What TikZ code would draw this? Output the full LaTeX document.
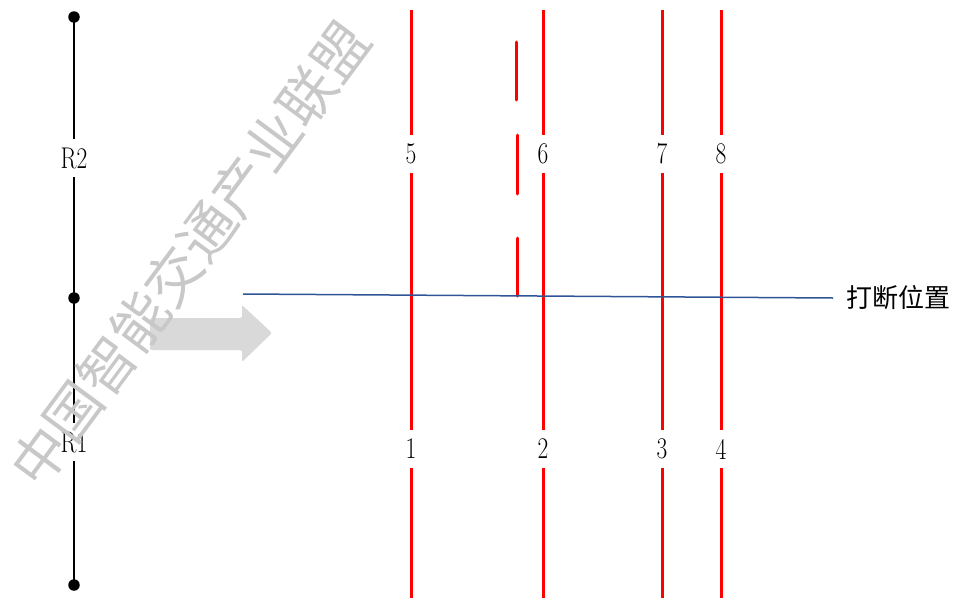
\documentclass[tikz,border=0pt]{standalone}
\usepackage{fontspec}
\newfontfamily\cjk{Noto Sans CJK SC}
\definecolor{rline}{RGB}{255,0,0}
\definecolor{bline}{RGB}{47,85,151}
\definecolor{arrowgray}{RGB}{217,217,217}
\definecolor{wmgray}{RGB}{200,200,200}
\tikzset{
  lbl/.style={inner sep=0pt, minimum height=38pt, minimum width=20pt, font=\fontsize{30}{30}\selectfont},
  redline/.style={draw=rline, line width=3pt},
  blackline/.style={draw=black, line width=1.6pt},
  dot/.style={circle, fill=black, inner sep=0pt, minimum size=11.5pt},
}
\newcommand{\nar}[1]{\scalebox{0.78}[1]{#1}}
\begin{document}
\begin{tikzpicture}[x=1pt,y=-1pt]
\useasboundingbox (0,0) rectangle (961,600);
% left black line
\node[dot] (d1) at (74,17) {};
\node[dot] (d2) at (74,298) {};
\node[dot] (d3) at (74,585) {};
\node[lbl] (r2) at (74,158) {\nar{R2}};
\node[lbl] (r1) at (74,442) {\nar{R1}};
\draw[blackline] (d1.center) -- (r2) -- (d2.center) -- (r1) -- (d3.center);
% gray arrow
\fill[arrowgray, rounded corners=2pt] (150,318) -- (242,318) -- (242,305) -- (272,333) -- (242,362) -- (242,350) -- (150,350) -- cycle;
% red lines
\foreach \x/\t/\b in {411/5/1, 543/6/2, 662/7/3, 721/8/4}{
  \coordinate (top\t) at (\x,10);
  \coordinate (bot\b) at (\x,598);
  \node[lbl] (n\t) at (\x,154) {\nar{\t}};
  \node[lbl] (n\b) at (\x,449) {\nar{\b}};
  \draw[redline] (top\t) -- (n\t) -- (n\b) -- (bot\b);
}
% dashed segments
\draw[redline, line cap=round] (516,42) -- (516,100);
\draw[redline, line cap=round] (517,135) -- (517,194);
\draw[redline, line cap=round] (517,238) -- (517,296);
% break line
\coordinate (bl) at (243,294);
\node[anchor=west, inner xsep=13pt, inner ysep=0pt, font=\cjk\fontsize{26}{26}\selectfont] (brk) at (833,298) {打断位置};
\draw[bline, line width=1.5pt] (bl) -- (brk.west);
% watermark
\node[rotate=53.5, text=wmgray, font=\cjk\fontsize{56}{56}\selectfont, inner sep=0pt] (wm) at (190,254) {中国智能交通产业联盟};
\end{tikzpicture}
\end{document}
